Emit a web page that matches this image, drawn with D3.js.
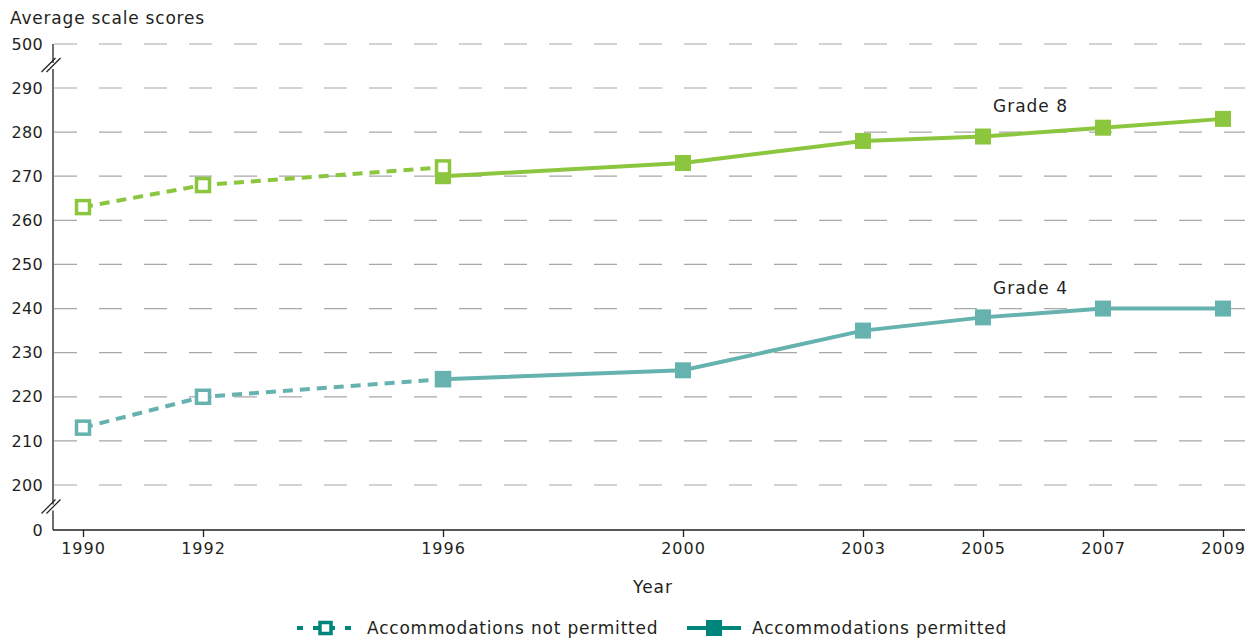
<!DOCTYPE html>
<html><head><meta charset="utf-8">
<script src="https://cdn.jsdelivr.net/npm/d3@7"></script>
<style>body{margin:0;background:#fff;}text{font-family:"DejaVu Sans",sans-serif;fill:#231f20;}</style>
</head><body>
<svg id="c" width="1245" height="640"></svg>
<script>
const years = [1990, 1992, 1996, 2000, 2003, 2005, 2007, 2009];
const yTicks = [0, 200, 210, 220, 230, 240, 250, 260, 270, 280, 290, 500];
const grade8NotPermittedYears = [1990, 1992, 1996];
const grade8NotPermitted = [263, 268, 272];
const grade8PermittedYears = [1996, 2000, 2003, 2005, 2007, 2009];
const grade8Permitted = [270, 273, 278, 279, 281, 283];
const grade4NotPermittedYears = [1990, 1992, 1996];
const grade4NotPermitted = [213, 220, 224];
const grade4PermittedYears = [1996, 2000, 2003, 2005, 2007, 2009];
const grade4Permitted = [224, 226, 235, 238, 240, 240];
const legendLabels = ["Accommodations not permitted", "Accommodations permitted"];

const FONT = "'DejaVu Sans', sans-serif";
const svg = d3.select("#c");
const x = d3.scaleLinear().domain([1990, 2009]).range([83, 1223]);
const y = d3.scaleLinear().domain([0, 200, 290, 500]).range([530, 485, 88, 44]);
const axisX0 = 53;
const green = "#8cc63f", teal = "#66b2ae", legendCol = "#00857a";

// gridlines
yTicks.filter(d => d > 0).forEach(t => {
  svg.append("line").attr("x1", axisX0 + 1).attr("x2", 1245)
    .attr("y1", y(t)).attr("y2", y(t))
    .attr("stroke", "#a8a8a8").attr("stroke-width", 1.2)
    .attr("stroke-dasharray", "23,22");
});

// y axis
const yAxis = d3.axisLeft(y).tickValues(yTicks).tickSize(0).tickPadding(10).tickFormat(d3.format("d"));
const gy = svg.append("g").attr("transform", `translate(${axisX0},0)`).call(yAxis);
gy.select(".domain").remove();
gy.selectAll("text").attr("font-size", 16).style("font-family", FONT).attr("fill", "#231f20").attr("letter-spacing", 0.3);
svg.append("line").attr("x1", axisX0).attr("x2", axisX0).attr("y1", y(500)).attr("y2", y(0))
  .attr("stroke", "#231f20").attr("stroke-width", 1.3);

// x axis
const xAxis = d3.axisBottom(x).tickValues(years).tickSize(7).tickPadding(6).tickFormat(d3.format("d"));
const gx = svg.append("g").attr("transform", `translate(0,${y(0)})`).call(xAxis);
gx.select(".domain").remove();
gx.selectAll("line").attr("stroke", "#231f20").attr("stroke-width", 1.3);
gx.selectAll("text").attr("font-size", 16).style("font-family", FONT).attr("fill", "#231f20").attr("letter-spacing", 1);
svg.append("line").attr("x1", axisX0).attr("x2", 1245).attr("y1", y(0)).attr("y2", y(0))
  .attr("stroke", "#231f20").attr("stroke-width", 1.3);

// axis break marks
function brk(cy) {
  svg.append("rect").attr("x", axisX0 - 5).attr("y", cy - 3).attr("width", 10).attr("height", 6).attr("fill", "#fff");
  [-2.5, 2.5].forEach(o => {
    svg.append("line").attr("x1", axisX0 - 9 + o).attr("y1", cy + 6)
      .attr("x2", axisX0 + 5 + o).attr("y2", cy - 8)
      .attr("stroke", "#231f20").attr("stroke-width", 1.2);
  });
}
brk(y(395));
brk(y(100));

// titles
svg.append("text").attr("x", 10).attr("y", 24).attr("font-size", 17).attr("letter-spacing", 0.8).text("Average scale scores");
svg.append("text").attr("x", 653).attr("y", 593).attr("text-anchor", "middle").attr("font-size", 17).attr("letter-spacing", 1).text("Year");

const line = d3.line().x(d => x(d[0])).y(d => y(d[1]));
function series(yrs, vals, color, dashed) {
  const pts = yrs.map((yr, i) => [yr, vals[i]]);
  svg.append("path").attr("d", line(pts)).attr("fill", "none").attr("stroke", color)
    .attr("stroke-width", 4).attr("stroke-dasharray", dashed ? "10,7" : null);
  return pts;
}
function markers(pts, color, open) {
  svg.selectAll(null).data(pts).enter().append("rect")
    .attr("x", d => x(d[0]) - (open ? 6.5 : 8)).attr("y", d => y(d[1]) - (open ? 6.5 : 8))
    .attr("width", open ? 13 : 16).attr("height", open ? 13 : 16)
    .attr("fill", open ? "#fff" : color).attr("stroke", open ? color : "none")
    .attr("stroke-width", open ? 3.5 : 0);
}
const g8np = series(grade8NotPermittedYears, grade8NotPermitted, green, true);
const g4np = series(grade4NotPermittedYears, grade4NotPermitted, teal, true);
const g8p = series(grade8PermittedYears, grade8Permitted, green, false);
const g4p = series(grade4PermittedYears, grade4Permitted, teal, false);
markers(g8p, green, false);
markers(g4np, teal, true);
markers(g4p, teal, false);
markers(g8np, green, true);

svg.append("text").attr("x", 993).attr("y", 112).attr("font-size", 17).attr("letter-spacing", 1).text("Grade 8");
svg.append("text").attr("x", 993).attr("y", 294).attr("font-size", 17).attr("letter-spacing", 1).text("Grade 4");

// legend
const ly = 628;
svg.append("line").attr("x1", 297).attr("x2", 357).attr("y1", ly).attr("y2", ly)
  .attr("stroke", legendCol).attr("stroke-width", 4).attr("stroke-dasharray", "6,10");
svg.append("rect").attr("x", 320).attr("y", ly - 5.5).attr("width", 11).attr("height", 11)
  .attr("fill", "#fff").attr("stroke", legendCol).attr("stroke-width", 3.5);
svg.append("text").attr("x", 367).attr("y", ly + 6).attr("font-size", 17).attr("letter-spacing", 0.8).text(legendLabels[0]);
svg.append("line").attr("x1", 687).attr("x2", 741).attr("y1", ly).attr("y2", ly)
  .attr("stroke", legendCol).attr("stroke-width", 4);
svg.append("rect").attr("x", 706).attr("y", ly - 8).attr("width", 16).attr("height", 16).attr("fill", legendCol);
svg.append("text").attr("x", 752).attr("y", ly + 6).attr("font-size", 17).attr("letter-spacing", 0.8).text(legendLabels[1]);
</script>
</body></html>
